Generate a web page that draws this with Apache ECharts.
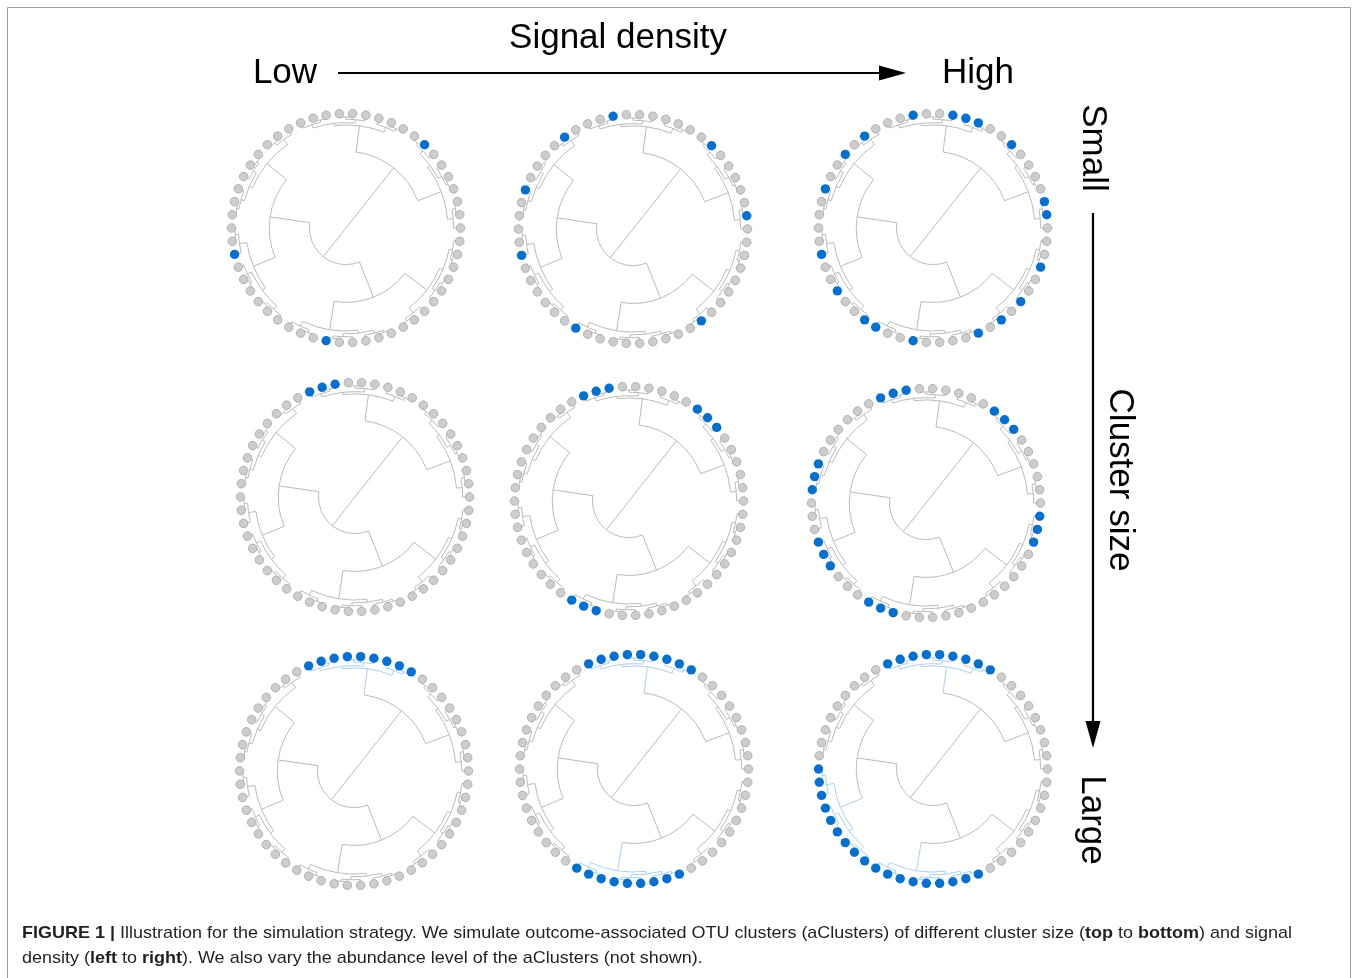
<!DOCTYPE html>
<html><head><meta charset="utf-8">
<script src="https://cdn.jsdelivr.net/npm/echarts@6/dist/echarts.min.js"></script>
<style>html,body{margin:0;padding:0;background:#fff}#c{width:1358px;height:978px}</style>
</head><body><div id="c"></div>
<script>
// ---------------- DATA ----------------
// 54 OTU tips, ordered clockwise around each circular dendrogram
const tipIds = [0,1,2,3,4,5,6,7,8,9,10,11,12,13,14,15,16,17,18,19,20,21,22,23,24,25,26,
  27,28,29,30,31,32,33,34,35,36,37,38,39,40,41,42,43,44,45,46,47,48,49,50,51,52,53];
const tipRadius = 1;
// Tree: [height, child, child, ...]; a plain number is a tip
const tree =
[0,
  [0.67,
    [0.90, [0.92, [0.95, 0, [0.97, 1, 2]], [0.95, [0.97, 3, 4], 5]], [0.945, 6, [0.97, 7, 8]]],
    [0.89, [0.915, [0.95, [0.97, 9, 10], 11], [0.95, 12, [0.97, 13, 14]]], [0.94, [0.97, 15, 16], 17]]
  ],
  [0.32,
    [0.65,
      [0.89, [0.92, [0.95, 18, [0.97, 19, 20]], [0.95, [0.97, 21, 22], 23]], [0.945, 24, [0.97, 25, 26]]],
      [0.90, [0.925, [0.95, [0.97, 27, 28], 29], [0.95, 30, [0.97, 31, 32]]], [0.945, [0.97, 33, 34], 35]]
    ],
    [0.67,
      [0.875, [0.91, [0.95, 36, [0.97, 37, 38]], [0.95, [0.97, 39, 40], 41]], [0.94, 42, [0.97, 43, 44]]],
      [0.89, [0.92, [0.95, [0.97, 45, 46], 47], [0.95, 48, [0.97, 49, 50]]], [0.945, [0.97, 51, 52], 53]]
    ]
  ]
];
// signal tips (blue) per panel: rows = cluster size, columns = signal density
const blueSmallLow    = [10, 32, 42];
const blueSmallMid    = [2, 10, 16, 25, 35, 42, 47, 52];
const blueSmallHigh   = [2, 5, 6, 7, 10, 15, 16, 20, 23, 25, 27, 32, 35, 36, 39, 42, 47, 50, 52];
const blueMediumLow   = [0, 1, 2];
const blueMediumMid   = [0, 1, 2, 9, 10, 11, 33, 34, 35];
const blueMediumHigh  = [0, 1, 2, 9, 10, 11, 18, 19, 20, 33, 34, 35, 39, 40, 41, 45, 46, 47];
const blueLargeLow    = [0, 1, 2, 3, 4, 5, 6, 7, 8];
const blueLargeMid    = [0, 1, 2, 3, 4, 5, 6, 7, 8, 27, 28, 29, 30, 31, 32, 33, 34, 35];
const blueLargeHigh   = [0, 1, 2, 3, 4, 5, 6, 7, 8, 27, 28, 29, 30, 31, 32, 33, 34, 35,
                         36, 37, 38, 39, 40, 41, 42, 43, 44];
const colLabels = ['Low', 'High'];
const rowLabels = ['Small', 'Large'];

// ---------------- LAYOUT / STYLE ----------------
const panels = [
  {blue: blueSmallLow,   branch: false, center: [346, 228]},
  {blue: blueSmallMid,   branch: false, center: [633, 229]},
  {blue: blueSmallHigh,  branch: false, center: [933, 228]},
  {blue: blueMediumLow,  branch: false, center: [355, 497]},
  {blue: blueMediumMid,  branch: false, center: [629, 501]},
  {blue: blueMediumHigh, branch: false, center: [926, 503]},
  {blue: blueLargeLow,   branch: true,  center: [354, 771]},
  {blue: blueLargeMid,   branch: true,  center: [634, 769]},
  {blue: blueLargeHigh,  branch: true,  center: [933, 769]}
];
const R = 114.5;
const GRAY_LINE = '#b3b3b3', BLUE_LINE = '#9fcbf1';
const DOT_GRAY = '#cdcdcd', DOT_GRAY_BORDER = '#a6a6a6', DOT_BLUE = '#0570d0';
const FONT = '"Liberation Sans", Arial, Helvetica, sans-serif';

function layoutTree(node) {
  if (typeof node === 'number') return {leaf: true, h: tipRadius, a: node, tips: [node]};
  const kids = node.slice(1).map(layoutTree);
  const a = kids.reduce((s, k) => s + k.a, 0) / kids.length;
  return {leaf: false, h: node[0], a: a, kids: kids, tips: kids.flatMap(k => k.tips)};
}
const laid = layoutTree(tree);

function buildSegments(n, blueSet, hl, out) {
  if (n.leaf) return out;
  const nodeBlue = hl && n.tips.every(t => blueSet.has(t));
  const angs = n.kids.map(k => k.a);
  if (n.h > 0) out.push([n.h, Math.min(...angs), n.h, Math.max(...angs), 1, nodeBlue ? 1 : 0]);
  n.kids.forEach(k => {
    const kb = hl && k.tips.every(t => blueSet.has(t));
    out.push([n.h, k.a, k.h, k.a, 0, kb ? 1 : 0]);
    buildSegments(k, blueSet, hl, out);
  });
  return out;
}

function renderBranch(params, api) {
  const p0 = api.coord([api.value(0), api.value(1)]);
  const p1 = api.coord([api.value(2), api.value(3)]);
  const col = api.value(5) ? BLUE_LINE : GRAY_LINE;
  if (api.value(4) === 0) {
    return {type: 'line', shape: {x1: p0[0], y1: p0[1], x2: p1[0], y2: p1[1]},
      style: {stroke: col, lineWidth: 0.9}};
  }
  const cs = params.coordSys;
  const cx = cs.cx, cy = cs.cy;
  const r = Math.hypot(p0[0] - cx, p0[1] - cy);
  return {type: 'arc', shape: {cx: cx, cy: cy, r: r,
      startAngle: Math.atan2(p0[1] - cy, p0[0] - cx),
      endAngle: Math.atan2(p1[1] - cy, p1[0] - cx), clockwise: true},
    style: {stroke: col, fill: null, lineWidth: 0.9}};
}

const polar = [], angleAxis = [], radiusAxis = [], series = [];
panels.forEach((p, i) => {
  polar.push({center: p.center, radius: R});
  angleAxis.push({polarIndex: i, type: 'value', min: -0.5, max: 53.5, startAngle: 116.667,
    clockwise: true, show: false});
  radiusAxis.push({polarIndex: i, type: 'value', min: 0, max: 1, show: false});
  const blueSet = new Set(p.blue);
  series.push({type: 'custom', coordinateSystem: 'polar', polarIndex: i, silent: true,
    renderItem: renderBranch, data: buildSegments(laid, blueSet, p.branch, []), z: 1});
  series.push({type: 'scatter', coordinateSystem: 'polar', polarIndex: i, silent: true,
    symbolSize: 8.6, z: 2,
    itemStyle: {color: DOT_GRAY, borderColor: DOT_GRAY_BORDER, borderWidth: 0.8, opacity: 1},
    data: tipIds.filter(t => !blueSet.has(t)).map(t => [tipRadius, t])});
  series.push({type: 'scatter', coordinateSystem: 'polar', polarIndex: i, silent: true,
    symbolSize: 9.4, z: 3, itemStyle: {color: DOT_BLUE, opacity: 1},
    data: tipIds.filter(t => blueSet.has(t)).map(t => [tipRadius, t])});
});

// caption
const capSize = 17;
const cap1 = [['FIGURE 1 |', 1], [' Illustration for the simulation strategy. We simulate outcome-associated OTU clusters (aClusters) of different cluster size (', 0],
  ['top', 1], [' to ', 0], ['bottom', 1], [') and signal', 0]];
const cap2 = [['density (', 0], ['left', 1], [' to ', 0], ['right', 1], ['). We also vary the abundance level of the aClusters (not shown).', 0]];
const mctx = document.createElement('canvas').getContext('2d');
function measure(parts) {
  return parts.reduce((s, p) => {
    mctx.font = (p[1] ? 'bold ' : '') + capSize + 'px ' + FONT;
    return s + mctx.measureText(p[0]).width;
  }, 0);
}
function richText(parts) {
  return parts.map(p => '{' + (p[1] ? 'b' : 'n') + '|' + p[0] + '}').join('');
}
const capScale = 1270 / measure(cap1);
const capRich = {
  b: {fontSize: capSize, fontFamily: FONT, fontWeight: 'bold', fill: '#231f20'},
  n: {fontSize: capSize, fontFamily: FONT, fontWeight: 'normal', fill: '#231f20'}
};

const graphic = [
  {type: 'rect', silent: true, shape: {x: 7.5, y: 7.5, width: 1343, height: 1000},
    style: {fill: 'none', stroke: '#9b9b9b', lineWidth: 1}},
  {type: 'text', x: 618, y: 38, style: {text: 'Signal density', fontSize: 35, fontFamily: FONT, fill: '#000', align: 'center', verticalAlign: 'middle'}},
  {type: 'text', x: 285, y: 73, style: {text: colLabels[0], fontSize: 35, fontFamily: FONT, fill: '#000', align: 'center', verticalAlign: 'middle'}},
  {type: 'text', x: 978, y: 73, style: {text: colLabels[1], fontSize: 35, fontFamily: FONT, fill: '#000', align: 'center', verticalAlign: 'middle'}},
  {type: 'line', shape: {x1: 338, y1: 73, x2: 882, y2: 73}, style: {stroke: '#000', lineWidth: 2.2}},
  {type: 'polygon', shape: {points: [[906, 73], [879, 65.5], [879, 80.5]]}, style: {fill: '#000'}},
  {type: 'text', x: 1093, y: 148, rotation: -Math.PI / 2, style: {text: rowLabels[0], fontSize: 35, fontFamily: FONT, fill: '#000', align: 'center', verticalAlign: 'middle'}},
  {type: 'text', x: 1120, y: 480, rotation: -Math.PI / 2, style: {text: 'Cluster size', fontSize: 35, fontFamily: FONT, fill: '#000', align: 'center', verticalAlign: 'middle'}},
  {type: 'text', x: 1092, y: 820, rotation: -Math.PI / 2, style: {text: rowLabels[1], fontSize: 35, fontFamily: FONT, fill: '#000', align: 'center', verticalAlign: 'middle'}},
  {type: 'line', shape: {x1: 1093, y1: 213, x2: 1093, y2: 724}, style: {stroke: '#000', lineWidth: 2.2}},
  {type: 'polygon', shape: {points: [[1093, 748], [1085.5, 721], [1100.5, 721]]}, style: {fill: '#000'}},
  {type: 'text', x: 22, y: 933, scaleX: capScale, style: {text: richText(cap1), rich: capRich, fontSize: capSize, fontFamily: FONT, align: 'left', verticalAlign: 'middle'}},
  {type: 'text', x: 22, y: 958, scaleX: capScale, style: {text: richText(cap2), rich: capRich, fontSize: capSize, fontFamily: FONT, align: 'left', verticalAlign: 'middle'}}
];

const chart = echarts.init(document.getElementById('c'), null, {renderer: 'canvas'});
chart.setOption({
  backgroundColor: '#ffffff',
  animation: false,
  polar: polar,
  angleAxis: angleAxis,
  radiusAxis: radiusAxis,
  series: series,
  graphic: graphic
});
</script>
</body></html>
